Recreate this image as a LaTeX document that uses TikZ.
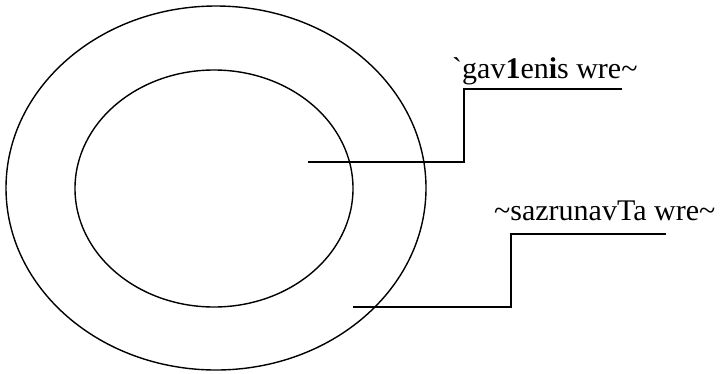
\documentclass[tikz,border=0pt]{standalone}
\usepackage{fontspec}
\newfontfamily\tf{Liberation Serif}
\tikzset{
  ln/.style={line width=1.4pt, line join=miter},
  lbl/.style={anchor=base west, inner sep=0pt, font=\tf\fontsize{30}{34}\selectfont}
}
\begin{document}
\begin{tikzpicture}[x=1pt,y=-1pt]
\useasboundingbox (0,0) rectangle (725,373);
\draw[ln] (216,188) ellipse [x radius=210, y radius=182];
\draw[ln] (214,188.5) ellipse [x radius=139, y radius=118.5];
\coordinate (a1) at (308,162);
\coordinate (a2) at (353,307);
\node[lbl] (t1) at (452,78) {\symbol{96}gav\textbf{1}en\textbf{i}s wre\symbol{126}};
\node[lbl] (t2) at (494,220) {\symbol{126}sazrunavTa wre\symbol{126}};
\draw[ln] (a1) -- (464,162) -- (464,89) -- (622,89);
\draw[ln] (a2) -- (511,307) -- (511,234) -- (666,234);
\end{tikzpicture}
\end{document}
